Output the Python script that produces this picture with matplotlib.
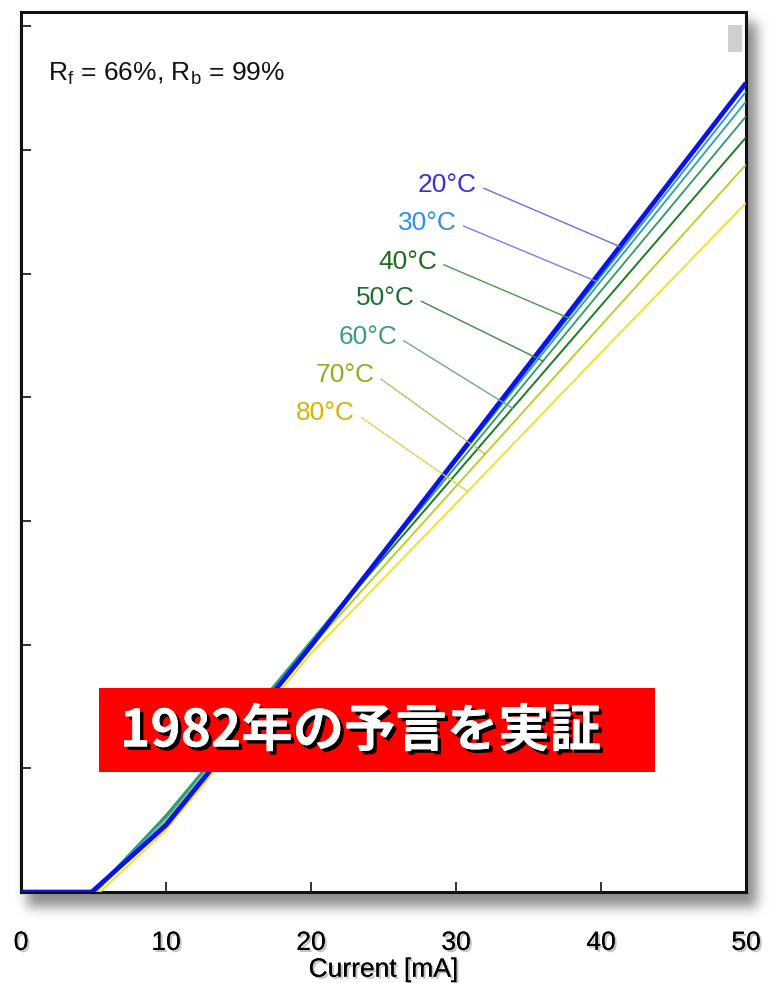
import numpy as np
import matplotlib
matplotlib.use("Agg")
import matplotlib.pyplot as plt
from matplotlib.patches import Rectangle
import matplotlib.patheffects as pe

plt.rcParams['font.family'] = ['Liberation Sans', 'DejaVu Sans']
plt.rcParams['mathtext.fontset'] = 'custom'
plt.rcParams['mathtext.rm'] = 'Liberation Sans'

# ---- data: optical output vs drive current at several temperatures ----
temps = ["20°C", "30°C", "40°C", "50°C", "60°C", "70°C", "80°C"]
thresholds = [4.88, 4.9, 4.95, 5.0, 5.05, 5.2, 5.45]          # mA
current_pts = [10, 20, 30, 40, 50]                             # mA
power_20 = [0.54, 1.99, 3.50, 5.02, 6.54]
power_30 = [0.56, 1.99, 3.49, 4.98, 6.47]
power_40 = [0.60, 2.02, 3.48, 4.94, 6.39]
power_50 = [0.62, 2.03, 3.44, 4.86, 6.27]
power_60 = [0.62, 2.02, 3.38, 4.74, 6.10]
power_70 = [0.58, 1.98, 3.28, 4.58, 5.88]
power_80 = [0.50, 1.93, 3.14, 4.36, 5.57]
powers = [power_20, power_30, power_40, power_50, power_60, power_70, power_80]

x_ticks = [0, 10, 20, 30, 40, 50]
y_ticks = [0, 1, 2, 3, 4, 5, 6, 7]

# styling
line_colors = ["#0a14e6", "#2a8cff", "#2aa3a8", "#2f9a62", "#1a7d22", "#b2d21a", "#f0e01e"]
line_widths = [3.4, 1.3, 1.3, 1.3, 1.4, 1.3, 1.3]
label_colors = ["#3b2ee0", "#2f8ff0", "#1d6b1d", "#1e6e35", "#3a9c84", "#8fae1e", "#d7b300"]
leader_colors = ["#6b6bf0", "#7b7bf5", "#4a9a4a", "#3a8a4a", "#6aaa9a", "#b5b550", "#e8c840"]
leader_styles = ["-", "-", "-", "-", "-", (0, (2, 1)), (0, (2, 1))]
anchor_current = [41.3, 39.7, 37.9, 36.0, 33.9, 32.0, 30.8]
label_pos = [(0.629, 0.803), (0.601, 0.760), (0.574, 0.716), (0.543, 0.675),
             (0.519, 0.631), (0.488, 0.588), (0.461, 0.544)]

W, H = 769, 983
fig = plt.figure(figsize=(W / 100, H / 100), dpi=100)

ax_l, ax_r, ax_t, ax_b = 21, 746, 12, 892

# soft drop shadow around the plot frame
bg = fig.add_axes([0, 0, 1, 1], zorder=0)
bg.set_axis_off()
mask = np.zeros((H, W))
mask[ax_t + 10:ax_b + 15, ax_l + 6:ax_r + 11] = 1.0
sig = 6.0
k = np.exp(-0.5 * (np.arange(-18, 19) / sig) ** 2)
k /= k.sum()
mask = np.apply_along_axis(lambda r: np.convolve(r, k, mode="same"), 1, mask)
mask = np.apply_along_axis(lambda c: np.convolve(c, k, mode="same"), 0, mask)
rgba = np.zeros((H, W, 4))
rgba[..., 3] = mask * 0.45
bg.imshow(rgba, extent=(0, W, H, 0), aspect="auto")
bg.set_xlim(0, W)
bg.set_ylim(H, 0)

ax = fig.add_axes([ax_l / W, (H - ax_b) / H, (ax_r - ax_l) / W, (ax_b - ax_t) / H], zorder=1)
ax.set_facecolor("white")

curves = []
for th, pw in zip(thresholds, powers):
    I = np.array([0.0, th] + current_pts)
    P = np.array([0.0, 0.0] + pw)
    curves.append((I, P))

# draw warm curves first so the 20 °C curve sits on top
for i in reversed(range(len(temps))):
    I, P = curves[i]
    ax.plot(I, P, color=line_colors[i], lw=line_widths[i], solid_capstyle="butt",
            zorder=3 + (len(temps) - i) * 0.1)

for i, t in enumerate(temps):
    I, P = curves[i]
    xa = anchor_current[i]
    ya = np.interp(xa, I, P)
    ax.annotate(t, xy=(xa, ya), xytext=label_pos[i], textcoords="axes fraction",
                ha="right", va="center", fontsize=19, color=label_colors[i],
                arrowprops=dict(arrowstyle="-", color=leader_colors[i], lw=1.0,
                                linestyle=leader_styles[i], shrinkA=3, shrinkB=0,
                                relpos=(1.0, 0.5)),
                zorder=5)

ax.text(0.037, 0.93, r"R$_\mathregular{f}$ = 66%, R$_\mathregular{b}$ = 99%",
        transform=ax.transAxes, fontsize=19, ha="left", va="center", color="#111111")

# small grey smudge in the upper-right corner
ax.add_patch(Rectangle((0.975, 0.955), 0.02, 0.03, transform=ax.transAxes,
                       facecolor="#c4c4c4", edgecolor="none", alpha=0.8, zorder=2))

ax.set_xlim(0, 50)
ax.set_ylim(0, (ax_b - ax_t) / 123.7)
ax.set_xticks(x_ticks)
ax.set_yticks(y_ticks)
ax.set_yticklabels([])
ax.tick_params(axis="both", direction="in", length=7, width=1.3, color="#222222")
ax.tick_params(axis="x", labelsize=19, pad=28)

soft_shadow = [pe.withSimplePatchShadow(offset=(1.5, -1.5), shadow_rgbFace="#888888",
                                        alpha=0.5), pe.Normal()]
for lbl in ax.get_xticklabels():
    lbl.set_path_effects(soft_shadow)
for s in ax.spines.values():
    s.set_linewidth(2.2)
    s.set_color("#111111")
xl = ax.set_xlabel("Current [mA]", fontsize=19, labelpad=2)
xl.set_path_effects(soft_shadow)

# red banner with headline
fig.patches.append(Rectangle((99 / W, (H - 772) / H), 556 / W, 84 / H,
                             transform=fig.transFigure, facecolor="#ff0000",
                             edgecolor="none", zorder=10))
fig.text(120 / W, (H - 731) / H, "1982年の予言を実証", color="white", fontsize=37,
         fontweight="bold", family=["Noto Sans CJK JP", "DejaVu Sans"],
         ha="left", va="center", zorder=11,
         path_effects=[pe.withSimplePatchShadow(offset=(2.5, -2.5), shadow_rgbFace="black",
                                                alpha=1.0), pe.Normal()])

fig.savefig("out.png", dpi=100)
